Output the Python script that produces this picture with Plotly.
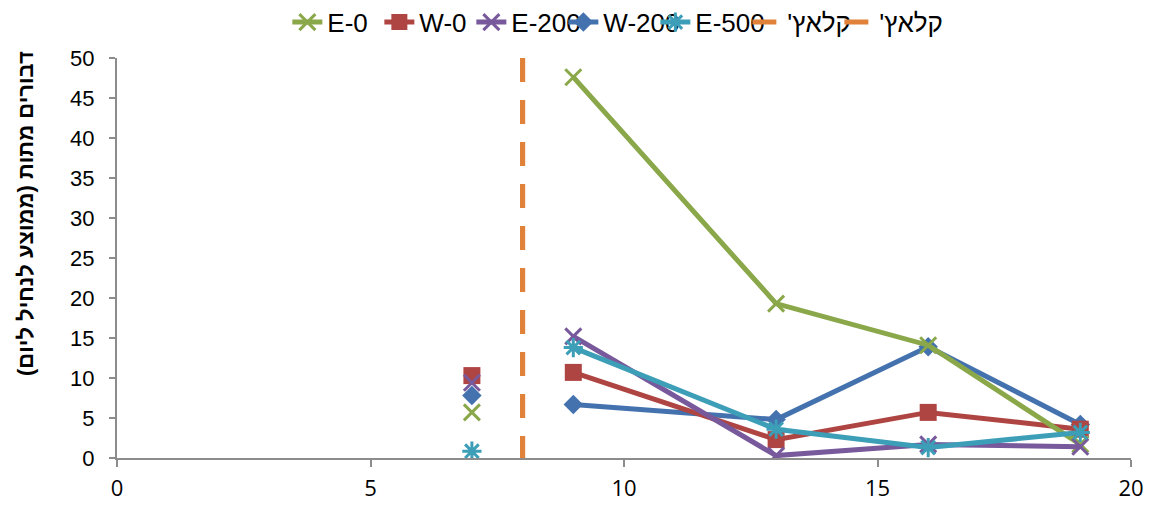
import plotly.graph_objects as go

# Data
days = [7, 8, 9, 13, 16, 19]
E0 = [5.7, None, 47.6, 19.3, 14.1, 1.7]
W0 = [10.3, None, 10.7, 2.3, 5.7, 3.6]
E200 = [9.4, None, 15.2, 0.3, 1.7, 1.4]
W200 = [7.8, None, 6.7, 4.8, 13.9, 4.2]
E500 = [0.85, None, 13.8, 3.6, 1.3, 3.2]
clutch_x = [8, 8]
clutch_y = [50, 0]

x_ticks = [0, 5, 10, 15, 20]
y_ticks = [0, 5, 10, 15, 20, 25, 30, 35, 40, 45, 50]

y_title = "דבורים מתות (ממוצע לנחיל ליום)"
clutch_name = "קלאץ'\u200f"

GREEN = "#8AA84A"
RED = "#AE4542"
PURPLE = "#77599C"
BLUE = "#4472AE"
TEAL = "#3C9EB7"
ORANGE = "#E0823A"
AXIS = "#8C8C8C"

fig = go.Figure()

def line_trace(name, y, color, symbol, size, rank, open_sym=False):
    marker = dict(symbol=symbol, size=size, color=color)
    if open_sym:
        marker["line"] = dict(color=color, width=3)
    return go.Scatter(x=days, y=y, name=name, mode="lines+markers",
                      line=dict(color=color, width=5), marker=marker,
                      connectgaps=False, legendrank=rank)

fig.add_trace(line_trace("W-200", W200, BLUE, "diamond", 15, 4))
fig.add_trace(line_trace("W-0", W0, RED, "square", 17, 2))
fig.add_trace(line_trace("E-0", E0, GREEN, "x-thin-open", 16, 1, True))
fig.add_trace(line_trace("E-200", E200, PURPLE, "x-thin-open", 16, 3, True))
fig.add_trace(line_trace("E-500", E500, TEAL, "asterisk-open", 16, 5, True))

for r in (6, 7):
    fig.add_trace(go.Scatter(x=clutch_x, y=clutch_y, name=clutch_name, mode="lines",
                             line=dict(color=ORANGE, width=5, dash="24px,18px"),
                             legendrank=r, legendwidth=(47 if r == 6 else 80)))

fig.add_annotation(text=y_title, textangle=-90, xref="paper", yref="paper",
                   x=-0.0907, y=0.61, xanchor="center", yanchor="middle",
                   showarrow=False, font=dict(size=22, weight="bold"))

fig.update_layout(
    width=1149, height=505,
    margin=dict(l=117, r=18, t=58, b=47, autoexpand=False),
    paper_bgcolor="white", plot_bgcolor="white",
    font=dict(family="Liberation Sans, Arial, sans-serif", color="black"),
    showlegend=True,
    legend=dict(orientation="h", x=0.168, xanchor="left", y=0.956, yref="container",
                yanchor="middle", font=dict(size=26), entrywidth=47,
                itemwidth=30, traceorder="normal", bgcolor="rgba(0,0,0,0)"),
    xaxis=dict(range=[0, 20], tickvals=x_ticks, ticks="outside", ticklen=7,
               tickcolor=AXIS, tickwidth=2, showline=True, linecolor=AXIS,
               linewidth=2, showgrid=False, zeroline=False, ticklabelstandoff=3,
               tickfont=dict(family="Open Sans, sans-serif", size=22)),
    yaxis=dict(range=[0, 50], tickvals=y_ticks, ticks="outside", ticklen=6,
               tickcolor=AXIS, tickwidth=2, showline=True, linecolor=AXIS,
               linewidth=2, showgrid=False, zeroline=False,
               tickfont=dict(size=22), ticklabelstandoff=10),
)

fig.write_html(
    "out.html",
    config={"displayModeBar": False},
    post_script="document.body.style.margin='0';document.body.style.overflow='hidden';",
)
